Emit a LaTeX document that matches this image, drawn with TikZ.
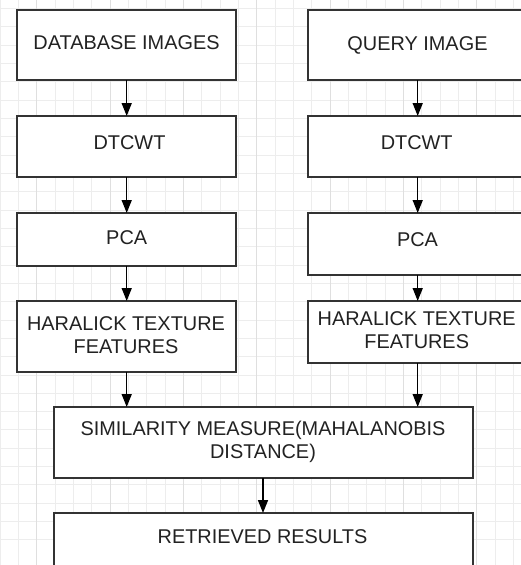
\documentclass[tikz,border=0pt]{standalone}
\usepackage{fontspec}
\setmainfont{Liberation Sans}
\usetikzlibrary{arrows.meta}
\definecolor{gridc}{HTML}{EDEDED}
\definecolor{gridm}{HTML}{DFDFDF}
\definecolor{boxc}{HTML}{333333}
\definecolor{txtc}{HTML}{222222}
\tikzset{
  box/.style={draw=boxc, line width=2pt, fill=white, rectangle, inner sep=0pt, outer sep=0pt, anchor=north west},
  txt/.style={text=txtc, font=\fontsize{19.9}{23}\selectfont, align=center, inner sep=0pt},
  flow/.style={line width=1.5pt, draw=black, -{Triangle[length=13pt,width=10pt]}}
}
\begin{document}
\begin{tikzpicture}[x=1pt,y=-1pt]
\useasboundingbox (0,0) rectangle (521,565);
\clip (0,0) rectangle (521,565);
\fill[white] (0,0) rectangle (521,565);
% grid
\foreach \k in {0,...,29}{
  \draw[gridc, line width=0.8pt] ({18.33*\k},0) -- ({18.33*\k},565);
  \draw[gridc, line width=0.8pt] (0,{8.3+18.33*\k}) -- (521,{8.3+18.33*\k});
}
\foreach \k in {0,...,7}{
  \draw[gridm, line width=0.8pt] ({36.7+73.3*\k},0) -- ({36.7+73.3*\k},565);
}
% boxes
\node[box, minimum width=219pt, minimum height=70pt] (db) at (17,10) {};
\node[box, minimum width=222pt, minimum height=70pt] (qi) at (308,10) {};
\node[box, minimum width=219pt, minimum height=61pt] (dtl) at (17,116) {};
\node[box, minimum width=222pt, minimum height=61pt] (dtr) at (308,116) {};
\node[box, minimum width=219pt, minimum height=53pt] (pcal) at (17,213) {};
\node[box, minimum width=222pt, minimum height=62pt] (pcar) at (308,213) {};
\node[box, minimum width=219pt, minimum height=71pt] (hl) at (17,301) {};
\node[box, minimum width=222pt, minimum height=62pt] (hr) at (308,301) {};
\node[box, minimum width=419pt, minimum height=71pt] (sim) at (54,407) {};
\node[box, minimum width=419pt, minimum height=90pt] (ret) at (54,513) {};
% texts
\node[txt] (dbt) at (126.5,43) {DATABASE IMAGES};
\node[txt] (qit) at (417.5,45) {QUERY IMAGE};
\node[txt] (dtlt) at (129.5,143) {DTCWT};
\node[txt] (dtrt) at (416.7,143) {DTCWT};
\node[txt] (pcalt) at (126.7,237.5) {PCA};
\node[txt] (pcart) at (417.5,240) {PCA};
\node[txt] (hlt) at (126,335) {HARALICK TEXTURE\\FEATURES};
\node[txt] (hrt) at (416.7,330) {HARALICK TEXTURE\\FEATURES};
\node[txt] (simt) at (263,442) {SIMILARITY MEASURE(MAHALANOBIS\\DISTANCE)};
\node[txt] (rett) at (262.5,537) {RETRIEVED RESULTS};
% connectors
\draw[flow] (db.south -| 126.7,0) -- (dtl.north -| 126.7,0);
\draw[flow] (dtl.south -| 126.7,0) -- (pcal.north -| 126.7,0);
\draw[flow] (pcal.south -| 126.7,0) -- (hl.north -| 126.7,0);
\draw[flow] (hl.south -| 126.7,0) -- (sim.north -| 126.7,0);
\draw[flow] (qi.south -| 417.7,0) -- (dtr.north -| 417.7,0);
\draw[flow] (dtr.south -| 417.7,0) -- (pcar.north -| 417.7,0);
\draw[flow] (pcar.south -| 417.7,0) -- (hr.north -| 417.7,0);
\draw[flow] (hr.south -| 417.7,0) -- (sim.north -| 417.7,0);
\draw[flow] (sim.south -| 263,0) -- (ret.north -| 263,0);
\end{tikzpicture}
\end{document}
